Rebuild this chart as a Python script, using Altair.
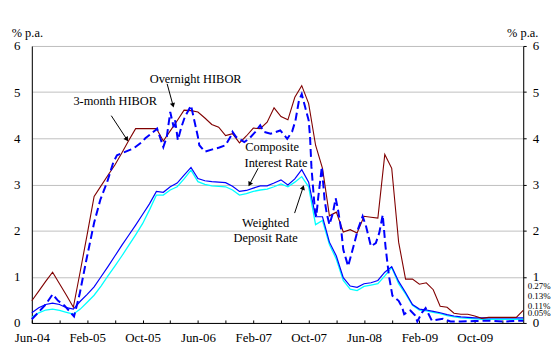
import math
import altair as alt
import pandas as pd

SERIF = "Liberation Serif"

# month index 0 = Jun-04
months = list(range(72))
hibor_3m = [0.48, 0.69, 0.90, 1.10, 0.85, 0.60, 0.34, 1.12, 1.92, 2.74,
            2.97, 3.20, 3.42, 3.68, 3.95, 4.21, 4.21, 4.21, 4.21, 3.94,
            4.16, 4.38, 4.61, 4.60, 4.57, 4.44, 4.30, 4.24, 4.06, 4.10,
            3.90, 4.05, 4.22, 4.21, 4.35, 4.66, 4.47, 4.40, 4.89, 5.14,
            4.75, 3.85, 3.35, 2.32, 2.40, 1.97, 2.02, 1.95, 2.31, 2.29,
            2.27, 3.65, 3.35, 1.75, 0.95, 0.95, 0.84, 0.87, 0.72, 0.36,
            0.34, 0.21, 0.19, 0.19, 0.15, 0.10, 0.12, 0.12, 0.12, 0.12, 0.12, 0.27]
composite = [0.22, 0.33, 0.40, 0.43, 0.40, 0.33, 0.30, 0.47, 0.62, 0.78,
             1.00, 1.22, 1.45, 1.68, 1.90, 2.12, 2.35, 2.58, 2.85, 2.83,
             2.95, 3.03, 3.20, 3.37, 3.13, 3.08, 3.06, 3.05, 3.04, 2.96,
             2.85, 2.87, 2.92, 2.97, 2.97, 3.03, 3.10, 2.99, 3.12, 3.32,
             3.05, 2.30, 2.30, 1.75, 1.45, 0.98, 0.80, 0.77, 0.85, 0.87,
             0.92, 1.10, 1.22, 0.90, 0.66, 0.40, 0.30, 0.28, 0.25, 0.22,
             0.18, 0.15, 0.13, 0.12, 0.11, 0.11, 0.11, 0.11, 0.11, 0.11, 0.11, 0.11]
weighted = [0.12, 0.22, 0.28, 0.30, 0.27, 0.23, 0.19, 0.30, 0.45, 0.60,
            0.80, 1.02, 1.23, 1.45, 1.68, 1.91, 2.15, 2.45, 2.77, 2.77,
            2.88, 2.95, 3.12, 3.31, 3.06, 3.00, 2.97, 2.96, 2.95, 2.88,
            2.77, 2.80, 2.85, 2.88, 2.90, 2.95, 3.01, 2.95, 3.05, 3.17,
            2.95, 2.13, 2.22, 1.70, 1.38, 0.92, 0.73, 0.70, 0.79, 0.82,
            0.85, 1.02, 1.20, 0.85, 0.63, 0.38, 0.28, 0.26, 0.23, 0.20,
            0.16, 0.13, 0.11, 0.10, 0.09, 0.08, 0.08, 0.08, 0.08, 0.08, 0.08, 0.08]

# overnight HIBOR (finer-than-monthly readings)
on_t = [0, 1.0, 2.0, 3.0, 3.8, 4.7, 6.1, 6.9, 7.9, 9.0, 9.9, 10.9, 11.8, 12.3,
        14.0, 14.7, 15.9, 16.4, 17.8, 18.1, 19.0, 19.5, 20.0, 20.5, 20.7, 21.1,
        21.6, 22.1, 23.0, 24.0, 24.2, 25.0, 26.1, 27.1, 28.0, 28.8, 29.0, 29.5,
        30.7, 31.4, 32.3, 33.0, 33.5, 34.5, 35.9, 36.9, 37.6, 38.1, 38.6, 39.0,
        39.5, 40.0, 40.2, 40.4, 40.7, 40.9, 41.1, 41.4, 41.6, 41.9, 42.1, 42.3,
        42.6, 43.0, 43.5, 43.9, 44.2, 44.7, 45.0, 45.7, 46.1, 46.6, 47.1, 47.8,
        48.3, 49.0, 49.7, 50.2, 50.7, 51.1, 51.6, 52.1, 53.0, 53.5, 53.8, 54.7,
        55.4, 55.7, 56.4, 56.9, 57.8, 59.4, 60.5, 62.0, 64.0, 66.0, 68.0, 71.0]
on_v = [0.08, 0.24, 0.40, 0.62, 0.48, 0.38, 0.14, 0.62, 1.38, 2.17, 2.67, 3.06, 3.49, 3.63,
        3.74, 3.78, 3.92, 4.00, 4.17, 4.21, 3.81, 4.03, 4.57, 4.24, 4.39, 3.96,
        4.24, 4.46, 4.71, 4.03, 3.85, 3.71, 3.76, 3.80, 3.85, 4.06, 4.14, 4.03,
        3.92, 3.99, 4.14, 4.28, 4.14, 4.10, 4.17, 3.99, 4.14, 4.39, 4.82, 4.96,
        4.67, 4.39, 4.03, 3.38, 2.81, 2.45, 2.31, 2.74, 2.99, 3.38, 3.02, 2.67,
        2.38, 2.13, 2.38, 2.70, 2.49, 2.02, 1.59, 1.23, 1.45, 1.73, 2.02, 2.31,
        2.09, 1.66, 1.73, 1.95, 2.34, 1.66, 1.02, 0.59, 0.48, 0.34, 0.19, 0.27,
        0.16, 0.03, 0.23, 0.32, 0.05, 0.09, 0.03, 0.03, 0.04, 0.05, 0.03, 0.05]

tick_pos = list(range(0, 72, 4))
label_pos = [0, 8, 16, 24, 32, 40, 48, 56, 64]
label_txt = ["Jun-04", "Feb-05", "Oct-05", "Jun-06", "Feb-07",
             "Oct-07", "Jun-08", "Feb-09", "Oct-09"]
y_ticks = [0, 1, 2, 3, 4, 5, 6]

ann_text = ["3-month HIBOR", "Overnight HIBOR", "Composite", "Interest Rate",
            "Weighted", "Deposit Rate"]
ann_x = [12.05, 23.67, 34.71, 35.28, 33.78, 33.78]
ann_y = [4.80, 5.29, 3.81, 3.46, 2.17, 1.85]

arr_x1 = [11.48, 19.55, 32.70, 37.97]
arr_y1 = [4.49, 5.18, 3.35, 2.38]
arr_x2 = [13.67, 20.37, 31.52, 39.16]
arr_y2 = [3.99, 4.73, 3.02, 2.92]

end_labels = ["0.27%", "0.13%", "0.11%", "0.05%"]
end_label_y = [0.80, 0.58, 0.37, 0.22]

W, H = 495, 279
XMAX, YMAX = 71, 6

xs = alt.Scale(domain=[0, XMAX], nice=False, zero=False)
ys = alt.Scale(domain=[0, YMAX], nice=False)

label_expr = "''"
for p, t in reversed(list(zip(label_pos, label_txt))):
    label_expr = f"datum.value == {p} ? '{t}' : ({label_expr})"

df = pd.DataFrame({"m": months, "h3": hibor_3m, "comp": composite, "wdr": weighted})
on_df = pd.DataFrame({"m": on_t, "v": on_v})
ann_df = pd.DataFrame({"x": ann_x, "y": ann_y, "t": ann_text})

angles = []
for a, b, c, d in zip(arr_x1, arr_y1, arr_x2, arr_y2):
    dx = (c - a) * W / XMAX
    dy = -(d - b) * H / YMAX
    angles.append(math.degrees(math.atan2(dx, -dy)) % 360)
arr_df = pd.DataFrame({"x1": arr_x1, "y1": arr_y1, "x2": arr_x2, "y2": arr_y2, "ang": angles})
end_df = pd.DataFrame({"t": end_labels, "y": end_label_y})

bottom_axis = alt.Axis(values=label_pos, labelExpr=label_expr, ticks=False, grid=False,
                       domainColor="black", labelFont=SERIF, labelFontSize=13,
                       labelColor="black", labelPadding=9, labelFlush=False,
                       labelOverlap=False, labelAngle=0, title=None)
left_axis = alt.Axis(values=y_ticks, grid=True, gridColor="#c0c0c0", gridWidth=1,
                     ticks=False, domainColor="black", labelFont=SERIF, labelFontSize=13,
                     labelColor="black", labelPadding=12, title="% p.a.", titleAngle=0,
                     titleX=-5, titleY=-14, titleAlign="center", titleBaseline="middle",
                     titleFont=SERIF, titleFontSize=12.5, titleFontWeight="normal",
                     titleColor="black")
right_axis = alt.Axis(orient="right", values=y_ticks, grid=False, ticks=True, tickSize=3,
                      tickColor="black", domainColor="black", labelFont=SERIF,
                      labelFontSize=13, labelColor="black", labelPadding=6,
                      title="% p.a.", titleAngle=0, titleX=-1, titleY=-14,
                      titleAlign="center", titleBaseline="middle", titleFont=SERIF,
                      titleFontSize=12.5, titleFontWeight="normal", titleColor="black")
inner_ticks = alt.Axis(orient="bottom", offset=-3, values=tick_pos, ticks=True, tickSize=3,
                       tickColor="black", labels=False, domain=False, grid=False, title=None)

wdr_line = alt.Chart(df).mark_line(color="#00ffff", strokeWidth=1.3).encode(
    x=alt.X("m:Q", scale=xs, axis=bottom_axis),
    y=alt.Y("wdr:Q", scale=ys, axis=left_axis))
comp_line = alt.Chart(df).mark_line(color="#0000ff", strokeWidth=1.2).encode(
    x=alt.X("m:Q", scale=xs, axis=inner_ticks),
    y=alt.Y("comp:Q", scale=ys, axis=right_axis))
h3_line = alt.Chart(df).mark_line(color="#800000", strokeWidth=1.1).encode(
    x=alt.X("m:Q", scale=xs, axis=None),
    y=alt.Y("h3:Q", scale=ys, axis=None))
on_line = alt.Chart(on_df).mark_line(color="#0000ff", strokeWidth=2,
                                     strokeDash=[8, 4]).encode(
    x=alt.X("m:Q", scale=xs, axis=None),
    y=alt.Y("v:Q", scale=ys, axis=None))
ann = alt.Chart(ann_df).mark_text(font=SERIF, fontSize=12.5, color="black",
                                  align="center", baseline="middle").encode(
    x=alt.X("x:Q", scale=xs, axis=None),
    y=alt.Y("y:Q", scale=ys, axis=None),
    text="t:N")
arr_lines = alt.Chart(arr_df).mark_rule(color="black", strokeWidth=1).encode(
    x=alt.X("x1:Q", scale=xs, axis=None), y=alt.Y("y1:Q", scale=ys, axis=None),
    x2="x2:Q", y2="y2:Q")
arr_heads = alt.Chart(arr_df).mark_point(shape="triangle", filled=True, size=28,
                                         color="black", opacity=1).encode(
    x=alt.X("x2:Q", scale=xs, axis=None), y=alt.Y("y2:Q", scale=ys, axis=None),
    angle=alt.Angle("ang:Q", scale=None))
end_txt = alt.Chart(end_df).mark_text(font=SERIF, fontSize=9, color="black",
                                      align="left", baseline="middle").encode(
    x=alt.value(W + 4.5),
    y=alt.Y("y:Q", scale=ys, axis=None),
    text="t:N")

chart = alt.layer(wdr_line, comp_line, h3_line, on_line, arr_lines, arr_heads, ann, end_txt).properties(
    width=W, height=H,
    padding={"left": 24, "top": 37, "right": 29, "bottom": 26},
    autosize=alt.AutoSizeParams(type="none"),
).resolve_axis(x="independent", y="independent").configure_view(
    stroke="black", strokeWidth=1
).configure_axis(
    labelFont=SERIF, titleFont=SERIF, labelColor="black", titleColor="black"
).configure_text(font=SERIF).configure(background="white", font=SERIF)

chart.save("out.html", embed_options={"renderer": "svg", "actions": False})
